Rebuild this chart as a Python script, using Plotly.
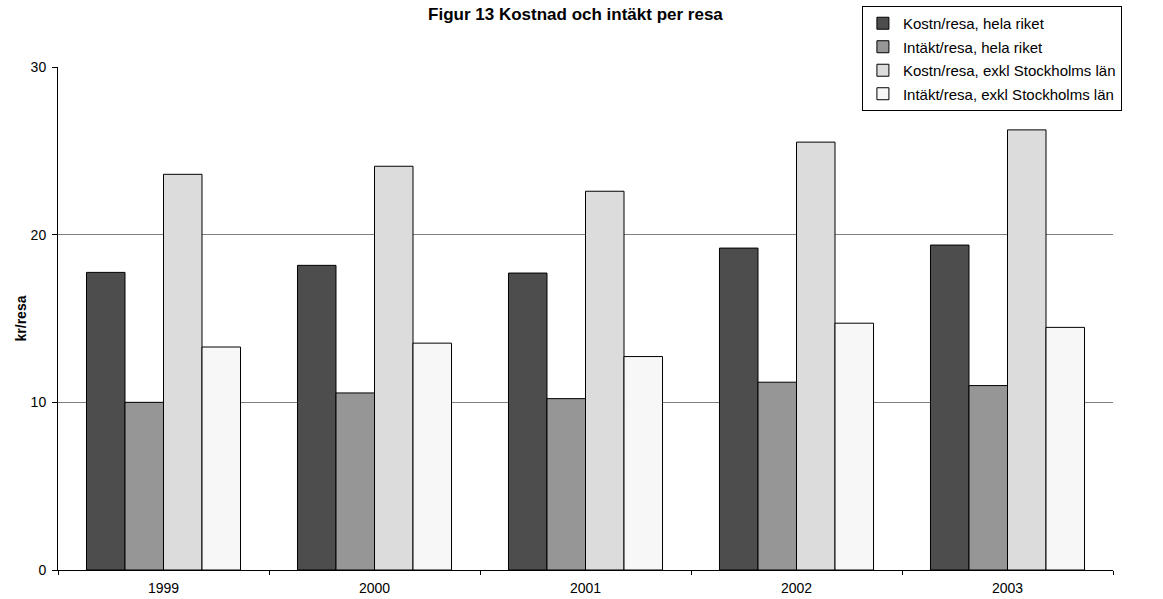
import plotly.graph_objects as go

years = ["1999", "2000", "2001", "2002", "2003"]
series_names = [
    "Kostn/resa, hela riket",
    "Intäkt/resa, hela riket",
    "Kostn/resa, exkl Stockholms län",
    "Intäkt/resa, exkl Stockholms län",
]
kostn_hela = [17.75, 18.17, 17.71, 19.2, 19.38]
intakt_hela = [10.0, 10.56, 10.22, 11.2, 11.0]
kostn_exkl = [23.6, 24.08, 22.59, 25.52, 26.25]
intakt_exkl = [13.3, 13.53, 12.73, 14.72, 14.47]
colors = ["#4d4d4d", "#969696", "#dcdcdc", "#f7f7f7"]

values = [kostn_hela, intakt_hela, kostn_exkl, intakt_exkl]

fig = go.Figure()
for name, vals, col in zip(series_names, values, colors):
    fig.add_trace(go.Bar(
        x=years, y=vals, name=name, legendgroup=name,
        marker=dict(color=col, line=dict(color="#000000", width=1)),
    ))

font_family = "Liberation Sans, Arial, sans-serif"
fig.update_layout(
    width=1163, height=599,
    margin=dict(l=58, r=50, t=67, b=29, pad=0, autoexpand=False),
    paper_bgcolor="white", plot_bgcolor="white",
    barmode="group", bargap=0.27, bargroupgap=0,
    font=dict(family=font_family, size=14, color="#000000"),
    title=dict(text="<b>Figur 13 Kostnad och intäkt per resa</b>",
               x=0.4948, xanchor="center", y=1 - 14/599, yanchor="middle",
               font=dict(size=17, family=font_family)),
    legend=dict(x=0.762, xanchor="left", y=1.1213, yanchor="top",
                bordercolor="#000000", borderwidth=1, bgcolor="white",
                font=dict(size=15, family=font_family),
                tracegroupgap=1, itemwidth=30),
    showlegend=True,
)
fig.update_xaxes(
    showline=True, linecolor="#000000", linewidth=1, automargin=False,
    ticks="outside", tickson="boundaries", ticklen=4, tickcolor="#000000",
    showgrid=False, tickfont=dict(size=14), ticklabelstandoff=5,
)
fig.update_yaxes(
    range=[0, 30], tickvals=[0, 10, 20, 30], automargin=False,
    showline=True, linecolor="#000000", linewidth=1,
    ticks="outside", ticklen=5, tickcolor="#000000",
    showgrid=True, gridcolor="#808080", gridwidth=1,
    zeroline=False, tickfont=dict(size=14), ticklabelstandoff=3,
    title=dict(text="<b>kr/resa</b>", font=dict(size=14), standoff=0),
)
fig.write_html("out.html", config={"displayModeBar": False},
               post_script="document.body.style.margin='0';")
